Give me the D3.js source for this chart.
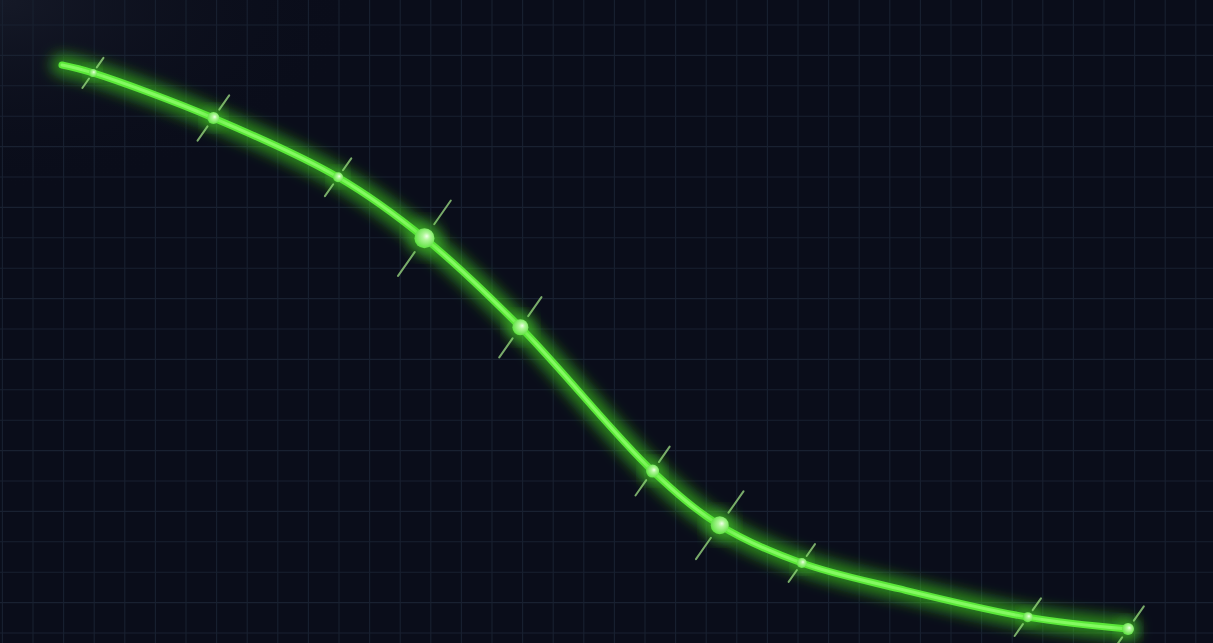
<!DOCTYPE html>
<html>
<head>
<meta charset="utf-8">
<script src="https://cdn.jsdelivr.net/npm/d3@7"></script>
<style>
  html, body { margin: 0; padding: 0; background: #0a0d1a; overflow: hidden; }
</style>
</head>
<body>
<div id="chart"></div>
<script>
// values (x and y both on a 0-100 scale)
const xValues = [0, 2.9, 14.2, 25.9, 34.0, 43.0, 55.4, 61.7, 69.4, 78.6, 90.6, 100];
const yValues = [100, 98.6, 90.6, 80.1, 69.3, 53.5, 28.0, 18.4, 11.7, 7.1, 2.1, 0];
// relative emphasis of each highlighted point (0 = plain curve sample, no marker)
const pointWeights = [0, 16, 36, 25, 100, 64, 42, 81, 25, 0, 25, 36];

const width = 1213;
const height = 643;

const points = xValues.map((x, i) => ({x, y: yValues[i], w: pointWeights[i]}));

const x = d3.scaleLinear().domain([0, 100]).range([62, 1128]);
const y = d3.scaleLinear().domain([0, 100]).range([629, 65]);
const r = d3.scaleSqrt().domain([0, 100]).range([0, 10]);

const svg = d3.select('#chart')
    .append('svg')
    .attr('width', width)
    .attr('height', height)
    .attr('viewBox', [0, 0, width, height]);

const defs = svg.append('defs');

const vignette = defs.append('radialGradient')
    .attr('id', 'vignette')
    .attr('cx', 0).attr('cy', 0).attr('r', 0.3);
vignette.append('stop').attr('offset', '0%').attr('stop-color', '#2a3040').attr('stop-opacity', 0.35);
vignette.append('stop').attr('offset', '100%').attr('stop-color', '#0a0d1a').attr('stop-opacity', 0);

const glow = defs.append('filter').attr('id', 'glow')
    .attr('x', '-20%').attr('y', '-20%').attr('width', '140%').attr('height', '140%');
glow.append('feGaussianBlur').attr('stdDeviation', 7);

const soft = defs.append('filter').attr('id', 'soft')
    .attr('x', '-50%').attr('y', '-50%').attr('width', '200%').attr('height', '200%');
soft.append('feGaussianBlur').attr('stdDeviation', 0.6);

const dot = defs.append('radialGradient')
    .attr('id', 'dot')
    .attr('cx', '55%').attr('cy', '45%').attr('r', '60%')
    .attr('fx', '62%').attr('fy', '40%');
dot.append('stop').attr('offset', '0%').attr('stop-color', '#f0ffe8');
dot.append('stop').attr('offset', '30%').attr('stop-color', '#b0f79a');
dot.append('stop').attr('offset', '100%').attr('stop-color', '#56e038');

// background
svg.append('rect').attr('width', width).attr('height', height).attr('fill', '#0a0d1a');
svg.append('rect').attr('width', width).attr('height', height).attr('fill', 'url(#vignette)');

// grid
const grid = svg.append('g')
    .attr('stroke', '#192131')
    .attr('stroke-width', 1.1);
grid.selectAll('line.v')
    .data(d3.range(2.4, width, 30.6))
    .join('line')
    .attr('class', 'v')
    .attr('x1', d => d).attr('x2', d => d)
    .attr('y1', 0).attr('y2', height);
grid.selectAll('line.h')
    .data(d3.range(25, height, 30.4))
    .join('line')
    .attr('class', 'h')
    .attr('x1', 0).attr('x2', width)
    .attr('y1', d => d).attr('y2', d => d);

const line = d3.line()
    .x(d => x(d.x))
    .y(d => y(d.y))
    .curve(d3.curveCatmullRom.alpha(0.5));

// glow + core of the curve
svg.append('path')
    .datum(points)
    .attr('d', line)
    .attr('fill', 'none')
    .attr('stroke', '#3fd41e')
    .attr('stroke-opacity', 0.6)
    .attr('stroke-width', 22)
    .attr('stroke-linecap', 'round')
    .attr('filter', 'url(#glow)');

svg.append('path')
    .datum(points)
    .attr('d', line)
    .attr('fill', 'none')
    .attr('stroke', '#5ae838')
    .attr('stroke-width', 7)
    .attr('stroke-linecap', 'round');

svg.append('path')
    .datum(points)
    .attr('d', line)
    .attr('fill', 'none')
    .attr('stroke', '#8cfb6a')
    .attr('stroke-opacity', 0.85)
    .attr('stroke-width', 3)
    .attr('stroke-linecap', 'round');

// markers with their little diagonal sparkles
const marked = points.filter(d => d.w > 0);
const ang = -55 * Math.PI / 180;
const dx = Math.cos(ang), dy = Math.sin(ang);

const sparkle = svg.append('g')
    .attr('stroke', '#a8ec8c')
    .attr('stroke-opacity', 0.7)
    .attr('stroke-width', 2)
    .attr('stroke-linecap', 'round')
    .attr('filter', 'url(#soft)');

[1, -1].forEach(s => {
    sparkle.selectAll(null)
        .data(marked)
        .join('line')
        .attr('x1', d => x(d.x) + s * dx * r(d.w) * 1.7)
        .attr('y1', d => y(d.y) + s * dy * r(d.w) * 1.7)
        .attr('x2', d => x(d.x) + s * dx * r(d.w) * 4.6)
        .attr('y2', d => y(d.y) + s * dy * r(d.w) * 4.6);
});

svg.append('g')
    .selectAll('circle')
    .data(marked)
    .join('circle')
    .attr('cx', d => x(d.x))
    .attr('cy', d => y(d.y))
    .attr('r', d => r(d.w) * 1.8)
    .attr('fill', '#4fe02c')
    .attr('fill-opacity', 0.4)
    .attr('filter', 'url(#glow)');

svg.append('g')
    .selectAll('circle')
    .data(marked)
    .join('circle')
    .attr('cx', d => x(d.x))
    .attr('cy', d => y(d.y))
    .attr('r', d => r(d.w))
    .attr('fill', 'url(#dot)');
</script>
</body>
</html>
